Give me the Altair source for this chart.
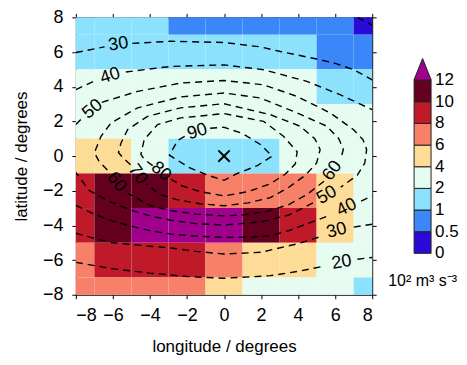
import json
import altair as alt
import pandas as pd

# ---------------- data ----------------
lon_centers = [-8, -6, -4, -2, 0, 2, 4, 6, 8]
lat_centers = [8, 6, 4, 2, 0, -2, -4, -6, -8]
cell_values = [
    [1.5, 1.5, 1.5, 0.75, 0.75, 0.75, 0.75, 0.75, 0.25],
    [1.5, 1.5, 1.5, 1.5, 1.5, 1.5, 1.5, 0.75, 0.75],
    [3, 3, 3, 3, 3, 3, 3, 1.5, 1.5],
    [3, 3, 3, 3, 3, 3, 3, 3, 3],
    [5, 5, 3, 1.5, 1.5, 1.5, 3, 3, 3],
    [9, 11, 11, 9, 7, 7, 7, 5, 3],
    [9, 11, 13, 13, 13, 11, 9, 5, 3],
    [7, 9, 9, 9, 7, 5, 5, 3, 3],
    [7, 7, 7, 7, 5, 3, 3, 3, 1.5],
]

thresholds = [0.5, 1, 2, 4, 6, 8, 10, 12]
colors = ["#2a0ad8", "#3b86f8", "#8ce2fc", "#e6fcf0", "#fddc98",
          "#f78068", "#c01a2a", "#64001f", "#a0008c"]
bar_labels = ["0", "0.5", "1", "2", "4", "6", "8", "10", "12"]
unit_text = "10² m³ s⁻³"

contour_segments = {
    "30top_a": [(-8, 5.97), (-6.45, 6.3)],
    "30top_b": [(-4.95, 6.5), (-2.88, 6.62), (0, 6.55), (1.96, 6.3), (3.04, 6.03),
                (5.0, 5.6), (6.0, 5.35), (7.0, 4.98), (8, 4.4)],
    "40top_a": [(-8, 3.83), (-6.95, 4.35)],
    "40top_b": [(-5.3, 4.85), (-2.88, 5.17), (0, 5.26), (2.14, 4.98), (4.47, 4.31),
                (6.26, 3.54), (8, 2.68)],
    "50_a": [(-8, 1.82), (-7.6, 2.25)],
    "50_b": [(-6.6, 3.1), (-4.67, 3.73), (-2.34, 4.21), (0, 4.36), (2.14, 4.11),
             (3.94, 3.44), (5.73, 2.49), (6.98, 1.53), (7.5, 0.95), (7.7, 0.38),
             (7.6, -0.4), (7.2, -1.1), (6.3, -1.8)],
    "50_c": [(4.8, -2.7), (3.5, -3.4), (2, -3.8), (0, -3.98), (-1.5, -3.9),
             (-2.87, -3.7), (-4, -3.45), (-5.1, -3.1), (-6.2, -2.6), (-7.27, -2.0),
             (-8, -0.95)],
    "60_a": [(-6.3, -0.8), (-6.75, -0.3), (-7.0, 0.2), (-6.64, 1.14), (-6.1, 1.91),
             (-4.67, 2.78), (-2.34, 3.41), (0, 3.64), (1.96, 3.35), (3.94, 2.49),
             (5.55, 1.72), (6.2, 1.0), (6.44, 0.38), (6.3, -0.2)],
    "60_b": [(5.4, -1.45), (4.5, -2.2), (3.5, -2.8), (2.3, -3.2), (1, -3.4),
             (0, -3.45), (-1.5, -3.35), (-2.87, -3.15), (-4, -2.85), (-5.2, -2.15)],
    "70_a": [(-5.05, -0.5), (-5.45, -0.1), (-5.7, 0.2), (-5.56, 0.76), (-5.2, 1.53),
             (-4.13, 2.29), (-2.34, 2.78), (0, 3.02), (2.5, 2.39), (4.11, 1.72),
             (4.9, 1.0), (5.19, 0.38), (5.0, -0.4), (4.4, -1.1), (3.5, -1.8),
             (2.5, -2.4), (1.3, -2.7), (0, -2.87), (-1.3, -2.75), (-2.6, -2.5),
             (-3.5, -2.2), (-4.2, -1.6)],
    "80_a": [(-3.85, -0.55), (-4.3, -0.2), (-4.49, 0.1), (-4.31, 0.95), (-3.59, 1.82),
             (-2.34, 2.2), (0, 2.45), (2.14, 2.0), (3.21, 1.14), (3.95, 0.25),
             (3.85, -0.45), (3.3, -1.05), (2.5, -1.6), (1.3, -2.05), (0, -2.3),
             (-1.3, -2.05), (-2.3, -1.7), (-2.85, -1.35)],
    "90_a": [(-0.75, 1.6), (0, 1.66), (1.0, 1.3), (1.96, 0.67), (2.6, 0.0),
             (1.8, -0.55), (0.62, -1.05), (0, -1.4), (-0.9, -1.1), (-1.9, -0.65),
             (-2.95, 0.05), (-2.5, 0.9), (-2.1, 1.15)],
    "30bot_a": [(-8, -4.45), (-7, -4.75), (-6, -5.0), (-4, -5.2), (-2.87, -5.3),
                (-1.5, -5.5), (0, -5.65), (2, -5.55), (4, -5.05), (5.2, -4.65)],
    "30bot_b": [(7.0, -4.1), (8, -3.93)],
    "40bot_a": [(-8, -2.85), (-7, -3.35), (-6, -3.75), (-5, -4.05), (-4, -4.3),
                (-2.87, -4.5), (-1.5, -4.62), (0, -4.69), (1.5, -4.68), (2.5, -4.6),
                (3.5, -4.3), (4.5, -3.9), (5.75, -3.4)],
    "40bot_b": [(7.4, -2.6), (8, -2.3)],
    "20_a": [(-8, -6.13), (-6, -6.5), (-4, -6.75), (-2, -6.95), (0, -7.05),
             (2.5, -6.9), (4, -6.65), (5.4, -6.35)],
    "20_b": [(7.2, -5.95), (8, -5.85)],
    "20_corner": [(7.2, 8.0), (8, 7.55)],
}

contour_labels = [
    ("30", -5.7, 6.45, 351), ("40", -6.15, 4.62, 342), ("50", -7.1, 2.7, 321),
    ("90", -1.44, 1.4, 343), ("60", -5.8, -1.5, 52), ("70", -4.67, -1.06, 55),
    ("80", -3.4, -0.9, 40), ("60", 5.85, -0.85, 305), ("50", 5.55, -2.25, 330),
    ("40", 6.62, -2.97, 333), ("30", 6.08, -4.3, 345), ("20", 6.35, -6.13, 350),
]

centre_mark = [(0, 0)]
tick_vals = [-8, -6, -4, -2, 0, 2, 4, 6, 8]

# ---------------- tables ----------------
rows = []
for r, lat in enumerate(lat_centers):
    for c, lon in enumerate(lon_centers):
        rows.append(dict(x1=max(lon - 1, -8), x2=min(lon + 1, 8),
                         y1=max(lat - 1, -8), y2=min(lat + 1, 8),
                         val=cell_values[r][c]))
cells = pd.DataFrame(rows)

lrows = []
for name, pts in contour_segments.items():
    for i, (x, y) in enumerate(pts):
        lrows.append(dict(seg=name, i=i, lon=x, lat=y))
lines = pd.DataFrame(lrows)

labels = pd.DataFrame(contour_labels, columns=["text", "lon", "lat", "ang"])
centre = pd.DataFrame(centre_mark, columns=["lon", "lat"])

FONT = "Liberation Sans"
MINUS = "replace(datum.label, '-', '\u2212')"
xs = alt.Scale(domain=[-8, 8], nice=False, zero=False)
ys = alt.Scale(domain=[-8, 8], nice=False, zero=False)

heat = alt.Chart(cells).mark_rect(strokeWidth=0).encode(
    x=alt.X("x1:Q", scale=xs, axis=alt.Axis(values=tick_vals, title="longitude / degrees",
                                             labelPadding=8, titlePadding=14,
                                             labelExpr=MINUS)),
    x2="x2:Q",
    y=alt.Y("y1:Q", scale=ys, axis=alt.Axis(values=tick_vals, title="latitude / degrees",
                                             labelPadding=9, titlePadding=12,
                                             labelExpr=MINUS)),
    y2="y2:Q",
    color=alt.Color("val:Q", scale=alt.Scale(type="threshold", domain=thresholds,
                                             range=colors), legend=None),
)

contours = alt.Chart(lines).mark_line(color="black", strokeWidth=1.4,
                                      strokeDash=[7, 5], clip=True).encode(
    x=alt.X("lon:Q", scale=xs, axis=None),
    y=alt.Y("lat:Q", scale=ys, axis=None),
    detail="seg:N",
    order="i:Q",
)

clabels = alt.Chart(labels).mark_text(fontSize=18, font=FONT, color="black",
                                      align="center", baseline="middle").encode(
    x=alt.X("lon:Q", scale=xs, axis=None),
    y=alt.Y("lat:Q", scale=ys, axis=None),
    text="text:N",
    angle=alt.Angle("ang:Q", scale=None),
)

cross = alt.Chart(centre).mark_point(shape="M -1 -1 L 1 1 M -1 1 L 1 -1", size=130,
                                     filled=False, color="black", strokeWidth=2,
                                     opacity=1).encode(
    x=alt.X("lon:Q", scale=xs, axis=alt.Axis(orient="top", values=tick_vals,
                                             labels=False, title=None)),
    y=alt.Y("lat:Q", scale=ys, axis=alt.Axis(orient="right", values=tick_vals,
                                             labels=False, title=None)),
)

main = alt.layer(heat, contours, clabels, cross).resolve_axis(
    x="independent", y="independent"
).properties(width=297, height=278)

# ---------------- colour bar ----------------
unit_px = 21.7
lo = -(295.5 - 254) / unit_px
hi = (254 - 17.5) / unit_px
bins = pd.DataFrame(dict(i=list(range(8)), i2=list(range(1, 9)), c=colors[:8],
                         x0=[0] * 8, x1=[1] * 8))
ticks = pd.DataFrame(dict(i=list(range(9)), t=bar_labels, x=[1] * 9))
cb_y = alt.Scale(domain=[lo, hi], nice=False, zero=False)
cb_x = alt.Scale(domain=[0, 1], nice=False, zero=False)

boxes = alt.Chart(bins).mark_rect(stroke="#222222", strokeWidth=1).encode(
    x=alt.X("x0:Q", scale=cb_x, axis=None),
    x2="x1:Q",
    y=alt.Y("i:Q", scale=cb_y, axis=None),
    y2="i2:Q",
    color=alt.Color("c:N", scale=None),
)
tri = alt.Chart(pd.DataFrame(dict(x=[0.5], y=[8.5]))).mark_point(
    shape="M -0.8 1 L 0.8 1 L 0 -1 Z", size=(unit_px) ** 2, filled=True,
    fill=colors[8], stroke="#222222", strokeWidth=1, opacity=1).encode(
    x=alt.X("x:Q", scale=cb_x, axis=None),
    y=alt.Y("y:Q", scale=cb_y, axis=None),
)
tick_text = alt.Chart(ticks).mark_text(fontSize=17, font=FONT, color="black",
                                       align="left", baseline="middle", dx=4).encode(
    x=alt.X("x:Q", scale=cb_x, axis=None),
    y=alt.Y("i:Q", scale=cb_y, axis=None),
    text="t:N",
)
unit = alt.Chart(pd.DataFrame(dict(x=[0.5], y=[-1.3], t=[unit_text]))).mark_text(
    fontSize=16, font=FONT, color="black").encode(
    x=alt.X("x:Q", scale=cb_x, axis=None),
    y=alt.Y("y:Q", scale=cb_y, axis=None),
    text="t:N",
)
bar = alt.layer(boxes, tri, tick_text, unit).properties(width=17, height=278)

chart = alt.hconcat(main, bar, spacing=42, bounds="flush").properties(
    padding={"left": 4, "top": 0, "right": 0, "bottom": 0}
).configure_view(stroke=None).configure_axis(
    grid=False, domainColor="black", tickColor="black", tickSize=4,
    labelFont=FONT, titleFont=FONT, labelFontSize=18, titleFontSize=17,
    labelColor="black", titleColor="black", titleFontWeight="normal",
).configure_text(font=FONT)

chart.save("out.html", embed_options={"renderer": "svg", "actions": False})
